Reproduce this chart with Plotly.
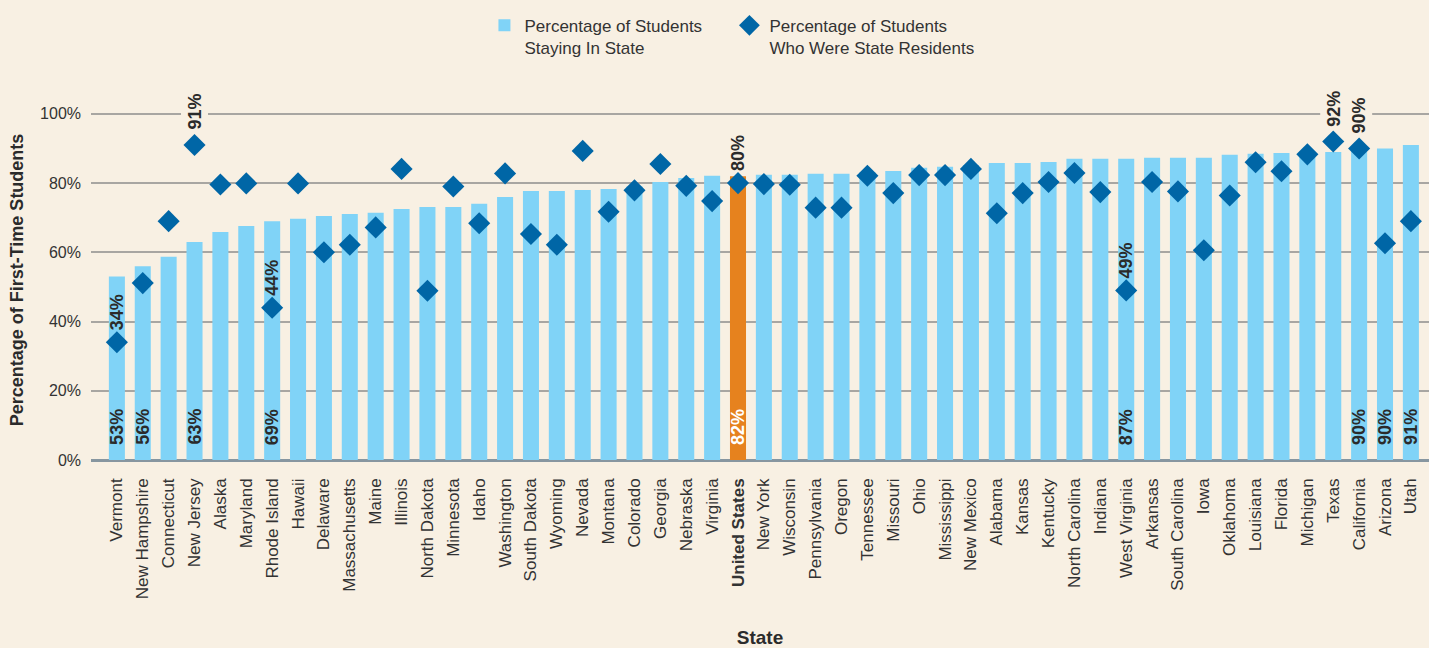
import plotly.graph_objects as go

# Share of first-time students attending college in their home state,
# and share of a state's first-time students who were state residents.
states = [
    "Vermont", "New Hampshire", "Connecticut", "New Jersey", "Alaska", "Maryland",
    "Rhode Island", "Hawaii", "Delaware", "Massachusetts", "Maine", "Illinois",
    "North Dakota", "Minnesota", "Idaho", "Washington", "South Dakota", "Wyoming",
    "Nevada", "Montana", "Colorado", "Georgia", "Nebraska", "Virginia",
    "United States", "New York", "Wisconsin", "Pennsylvania", "Oregon", "Tennessee",
    "Missouri", "Ohio", "Mississippi", "New Mexico", "Alabama", "Kansas",
    "Kentucky", "North Carolina", "Indiana", "West Virginia", "Arkansas",
    "South Carolina", "Iowa", "Oklahoma", "Louisiana", "Florida", "Michigan",
    "Texas", "California", "Arizona", "Utah",
]

staying_in_state = [
    53, 56, 58.7, 63, 65.9, 67.6,
    69, 69.7, 70.5, 71.1, 71.4, 72.5,
    73.1, 73.1, 74.0, 76.0, 77.7, 77.7,
    78.0, 78.3, 79.0, 80.3, 81.5, 82.1,
    82, 82.4, 82.4, 82.7, 82.7, 83.1,
    83.5, 84.4, 84.7, 85.2, 85.8, 85.8,
    86.1, 87.0, 87.0, 87, 87.3,
    87.3, 87.3, 88.2, 88.5, 88.7, 88.9,
    89.0, 90, 90, 91,
]

state_residents = [
    34, 51.1, 69.0, 91, 79.6, 79.9,
    44, 79.9, 60.0, 62.2, 67.2, 84.1,
    48.9, 79.0, 68.4, 82.8, 65.3, 62.2,
    89.3, 71.7, 77.9, 85.5, 79.2, 74.8,
    80, 79.7, 79.5, 72.9, 72.9, 82.1,
    77.1, 82.3, 82.3, 84.1, 71.3, 77.1,
    80.3, 82.9, 77.4, 49, 80.3,
    77.6, 60.6, 76.4, 86.0, 83.4, 88.3,
    92, 90, 62.6, 69.0,
]

# States whose values are called out with a rotated label
bar_label_states = ["Vermont", "New Hampshire", "New Jersey", "Rhode Island",
                    "United States", "West Virginia", "California", "Arizona", "Utah"]
diamond_label_states = ["Vermont", "New Jersey", "Rhode Island", "United States",
                        "West Virginia", "Texas", "California"]
# Labels above the top gridline get a background patch that breaks the line
gridline_break_states = ["New Jersey", "Texas", "California"]

national = "United States"

BG = "#F8F0E3"
BAR = "#80D3F7"
BAR_US = "#E6821E"
DIAMOND = "#0066A6"
TEXT = "#2B2B2B"
NARROW = "Liberation Sans Narrow, Liberation Sans, Arial Narrow, sans-serif"
REGULAR = "Liberation Sans, Arial, sans-serif"

bar_colors = [BAR_US if s == national else BAR for s in states]
tick_text = [f"<b>{s}</b>" if s == national else s for s in states]

fig = go.Figure()
fig.add_trace(go.Bar(
    x=states, y=staying_in_state,
    marker=dict(color=bar_colors, line=dict(width=0)),
    name="Percentage of Students<br>Staying In State",
    hoverinfo="x+y",
))
fig.add_trace(go.Scatter(
    x=states, y=state_residents, mode="markers",
    marker=dict(symbol="diamond", size=17, color=DIAMOND, line=dict(width=0)),
    name="Percentage of Students<br>Who Were State Residents",
    cliponaxis=False,
))

annotations = []
for s in bar_label_states:
    v = staying_in_state[states.index(s)]
    annotations.append(dict(
        x=s, y=0, xref="x", yref="y", text=f"<b>{v:.0f}%</b>",
        showarrow=False, textangle=-90, yanchor="bottom", xanchor="center",
        yshift=14, borderpad=0,
        font=dict(family=NARROW, size=18, color="#FFFFFF" if s == national else TEXT),
    ))
for s in diamond_label_states:
    v = state_residents[states.index(s)]
    brk = s in gridline_break_states
    annotations.append(dict(
        x=s, y=v, xref="x", yref="y", text=f"<b>{v:.0f}%</b>",
        showarrow=False, textangle=-90, yanchor="bottom", xanchor="center",
        yshift=11, borderpad=3 if brk else 0,
        bgcolor=BG if brk else None,
        font=dict(family=NARROW, size=18, color=TEXT),
    ))

fig.update_layout(
    width=1429, height=648,
    margin=dict(l=91, r=0, t=100, b=188),
    paper_bgcolor=BG, plot_bgcolor=BG,
    bargap=0.38,
    showlegend=True,
    legend=dict(
        orientation="h", xref="container", yref="container",
        x=0.339, y=0.988, xanchor="left", yanchor="top",
        valign="top", entrywidth=200,
        font=dict(family=REGULAR, size=17, color="#333333"),
        bgcolor="rgba(0,0,0,0)", itemclick=False,
    ),
    annotations=annotations,
    xaxis=dict(
        range=[-1, 50.7], tickmode="array", tickvals=states, ticktext=tick_text,
        tickangle=-90, ticks="", ticklabelstandoff=14, showgrid=False,
        tickfont=dict(family=REGULAR, size=17, color="#333333"),
        title=dict(text="<b>State</b>", standoff=38,
                   font=dict(family=NARROW, size=19, color=TEXT)),
        automargin=False, fixedrange=True,
    ),
    yaxis=dict(
        range=[0, 104], tickmode="array", tickvals=[0, 20, 40, 60, 80, 100],
        ticktext=["0%", "20%", "40%", "60%", "80%", "100%"],
        ticks="", ticklabelstandoff=9,
        showgrid=True, gridcolor="#A8A6A2", gridwidth=1.5,
        zeroline=True, zerolinecolor="#8796A0", zerolinewidth=2.5,
        tickfont=dict(family=NARROW, size=16, color="#333333"),
        title=dict(text="<b>Percentage of First-Time Students</b>", standoff=11,
                   font=dict(family=NARROW, size=18, color=TEXT)),
        automargin=False, fixedrange=True,
    ),
)

fig.write_html("out.html")
